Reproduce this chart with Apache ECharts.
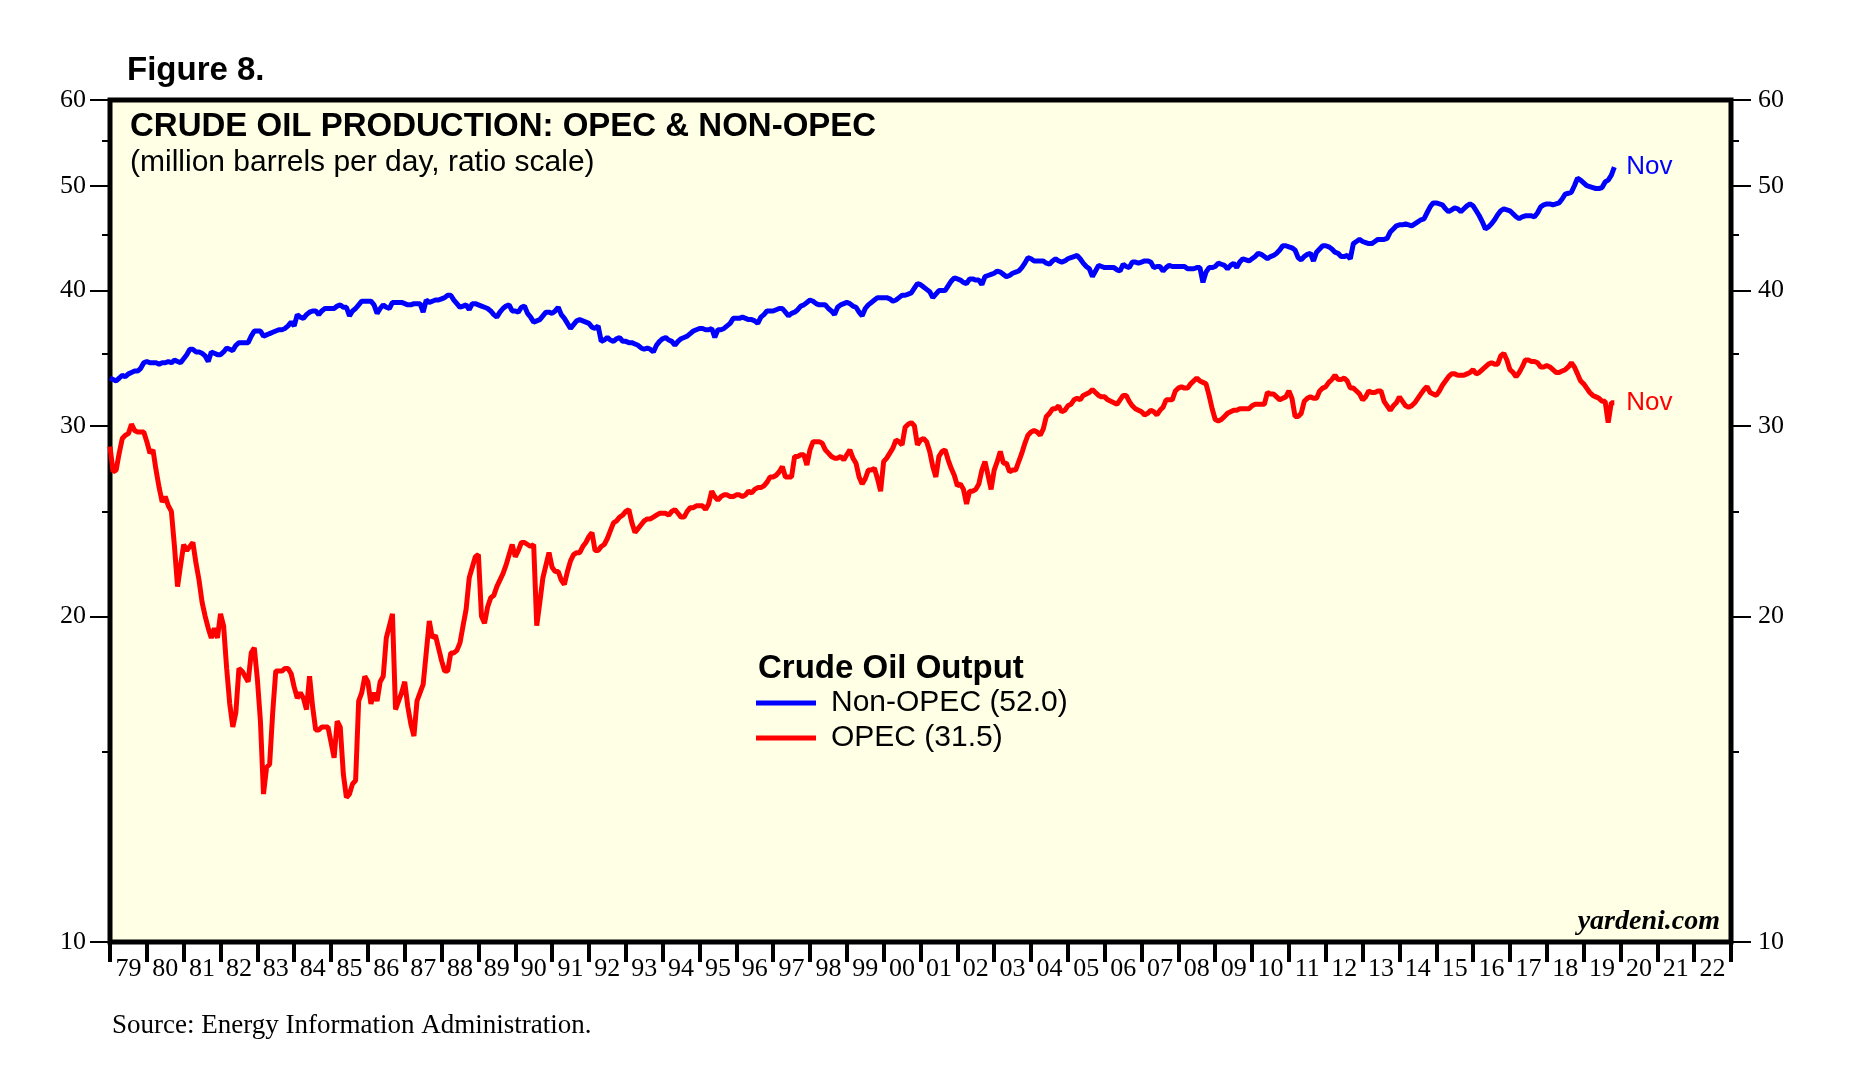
<!DOCTYPE html>
<html><head><meta charset="utf-8">
<script src="https://cdn.jsdelivr.net/npm/echarts@6/dist/echarts.min.js"></script>
<style>html,body{margin:0;padding:0;background:#fff}#c{width:1856px;height:1066px}</style>
</head><body><div id="c"></div>
<script>
// x-axis tick labels (one per year, 1979 .. 2022)
const yearLabels = ['79','80','81','82','83','84','85','86','87','88','89','90','91','92','93','94','95','96','97','98','99','00','01','02','03','04','05','06','07','08','09','10','11','12','13','14','15','16','17','18','19','20','21','22'];
const startYear = 1979;      // first monthly observation: Jan 1979
const axisMinYear = 1979;
const axisMaxYear = 2023;
const yMajorTicks = [10, 20, 30, 40, 50, 60];
const yMinorTicks = [15, 25, 35, 45, 55];
const lastMonthLabel = 'Nov';

// Monthly crude oil production, million barrels per day (Jan 1979 - Nov 2019)
const nonOpec = [
 33.2,33.1,33.0,33.2,33.4,33.3,33.5,33.6,33.7,33.7,33.9,34.3,
 34.4,34.3,34.3,34.3,34.2,34.3,34.3,34.4,34.3,34.5,34.4,34.3,
 34.6,34.9,35.3,35.3,35.1,35.1,35.0,34.8,34.4,35.1,35.0,34.9,
 34.9,35.1,35.4,35.3,35.2,35.6,35.8,35.8,35.8,35.8,36.3,36.7,
 36.7,36.7,36.3,36.4,36.5,36.6,36.7,36.8,36.8,36.9,37.1,37.4,
 37.1,38.0,37.8,37.7,38.0,38.2,38.3,38.3,38.0,38.3,38.5,38.5,
 38.5,38.5,38.7,38.8,38.6,38.6,37.9,38.3,38.5,38.8,39.1,39.1,
 39.1,39.1,38.8,38.1,38.5,38.8,38.6,38.5,39.0,39.0,39.0,39.0,
 38.9,38.8,38.8,38.9,38.9,38.9,38.2,39.2,39.0,39.1,39.2,39.2,
 39.3,39.4,39.6,39.6,39.2,38.9,38.6,38.7,38.8,38.4,38.9,38.9,
 38.8,38.7,38.6,38.5,38.3,38.0,37.8,38.2,38.5,38.7,38.8,38.3,
 38.3,38.2,38.6,38.7,38.1,37.8,37.4,37.5,37.6,37.9,38.2,38.2,
 38.1,38.3,38.6,38.0,37.7,37.3,36.9,37.2,37.5,37.6,37.5,37.4,
 37.3,37.0,36.9,37.1,35.9,36.0,36.2,36.0,35.9,36.1,36.2,35.9,
 35.9,35.8,35.8,35.7,35.6,35.4,35.3,35.4,35.3,35.1,35.6,35.9,
 36.1,36.2,36.0,35.9,35.6,35.9,36.1,36.2,36.3,36.5,36.7,36.8,
 36.9,36.9,36.8,36.8,36.9,36.2,36.8,36.8,36.9,37.1,37.3,37.7,
 37.7,37.7,37.8,37.7,37.6,37.6,37.5,37.3,37.8,38.0,38.3,38.3,
 38.3,38.4,38.5,38.5,38.2,37.9,38.1,38.2,38.4,38.7,38.8,39.0,
 39.2,39.1,38.9,38.8,38.8,38.8,38.5,38.3,38.0,38.6,38.8,38.9,
 39.0,38.9,38.7,38.6,38.2,37.9,38.5,38.8,39.0,39.2,39.4,39.4,
 39.4,39.4,39.3,39.1,39.2,39.4,39.6,39.6,39.7,39.8,40.2,40.6,
 40.5,40.3,40.1,39.9,39.4,39.7,40.0,40.0,40.0,40.4,40.8,41.1,
 41.0,40.9,40.7,40.6,41.0,41.0,40.9,40.9,40.5,41.2,41.3,41.4,
 41.5,41.7,41.6,41.4,41.2,41.3,41.5,41.6,41.7,42.0,42.4,42.9,
 42.8,42.6,42.6,42.6,42.6,42.4,42.3,42.6,42.8,42.6,42.5,42.6,
 42.8,42.9,43.0,43.1,42.8,42.4,42.1,41.9,41.2,41.7,42.2,42.1,
 42.0,42.0,42.0,42.0,41.8,41.7,42.3,42.1,42.0,42.5,42.5,42.4,
 42.5,42.6,42.6,42.5,42.0,42.1,42.1,41.7,42.0,42.2,42.1,42.1,
 42.1,42.1,42.1,41.9,41.9,41.9,42.0,42.0,40.7,41.6,42.0,42.0,
 42.1,42.4,42.3,42.2,41.9,42.2,42.4,42.0,42.5,42.8,42.7,42.6,
 42.8,43.0,43.3,43.2,43.0,42.8,43.0,43.1,43.3,43.6,44.0,44.0,
 43.9,43.8,43.6,42.9,42.7,43.0,43.2,43.3,42.6,43.4,43.7,44.0,
 44.0,43.9,43.7,43.4,43.3,43.0,43.0,43.1,42.8,44.2,44.4,44.6,
 44.4,44.3,44.2,44.2,44.4,44.6,44.6,44.6,44.7,45.3,45.6,45.9,
 46.0,46.0,46.1,46.0,45.9,46.1,46.3,46.5,46.6,47.2,47.8,48.2,
 48.2,48.1,48.0,47.6,47.3,47.5,47.7,47.6,47.3,47.6,47.9,48.1,
 47.9,47.4,46.9,46.3,45.6,45.8,46.1,46.5,47.0,47.4,47.6,47.5,
 47.4,47.1,46.8,46.6,46.8,46.9,46.9,46.9,46.8,47.2,47.8,48.0,
 48.1,48.1,48.0,48.1,48.2,48.6,49.1,49.2,49.3,50.0,50.8,50.6,
 50.3,50.0,49.9,49.8,49.7,49.7,49.8,50.4,50.6,51.1,52.0
];
const opec = [
 28.7,27.2,27.3,28.3,29.2,29.4,29.5,30.1,29.7,29.6,29.6,29.6,
 29.0,28.3,28.5,27.3,26.3,25.5,25.8,25.3,25.0,23.2,21.3,22.3,
 23.3,23.0,23.2,23.4,22.4,21.6,20.6,20.0,19.5,19.1,19.5,19.1,
 20.1,19.6,17.9,16.6,15.8,16.3,17.9,17.8,17.6,17.4,18.5,18.7,
 17.5,16.0,13.7,14.5,14.6,16.3,17.8,17.8,17.8,17.9,17.9,17.7,
 17.2,16.8,17.0,16.8,16.4,17.6,16.5,15.7,15.7,15.8,15.8,15.8,
 15.3,14.8,16.0,15.8,14.3,13.6,13.7,14.0,14.1,16.7,17.0,17.6,
 17.4,16.6,17.0,16.7,17.4,17.6,19.1,19.6,20.1,16.4,16.7,17.0,
 17.4,16.5,15.9,15.5,16.7,17.0,17.3,18.5,19.8,19.1,19.2,18.7,
 18.2,17.8,17.8,18.5,18.5,18.6,18.9,19.6,20.3,21.7,22.2,22.7,
 22.8,20.0,19.7,20.4,20.8,20.9,21.3,21.6,21.9,22.3,22.8,23.3,
 22.7,23.0,23.4,23.4,23.3,23.2,23.3,19.6,20.6,21.7,22.3,22.9,
 22.2,22.0,22.0,21.6,21.4,22.0,22.5,22.8,22.9,22.9,23.2,23.4,
 23.7,23.9,23.0,23.0,23.2,23.3,23.6,24.0,24.4,24.5,24.7,24.8,
 25.0,25.1,24.4,23.9,24.1,24.3,24.5,24.6,24.6,24.7,24.8,24.9,
 24.9,24.9,24.8,25.0,25.1,24.9,24.7,24.7,25.0,25.2,25.2,25.3,
 25.3,25.3,25.1,25.4,26.1,25.8,25.6,25.8,25.9,25.9,25.8,25.8,
 25.9,25.9,25.8,25.9,26.1,26.0,26.2,26.3,26.3,26.4,26.6,26.9,
 26.9,27.0,27.2,27.5,26.9,26.9,26.9,28.1,28.1,28.2,28.2,27.6,
 28.5,29.0,29.0,29.0,28.9,28.5,28.3,28.1,28.0,28.0,28.1,27.9,
 28.2,28.5,28.0,27.7,26.9,26.5,26.8,27.3,27.3,27.4,26.8,26.1,
 27.8,28.0,28.3,28.6,29.1,29.0,28.8,29.9,30.1,30.2,30.0,28.8,
 29.1,29.2,29.0,28.4,27.5,26.9,28.1,28.4,28.5,27.9,27.4,27.0,
 26.4,26.5,26.2,25.4,26.1,26.1,26.2,26.5,27.3,27.8,27.0,26.2,
 27.3,27.8,28.4,27.7,27.7,27.2,27.3,27.3,27.8,28.3,28.9,29.4,
 29.6,29.7,29.6,29.4,29.8,30.6,30.8,31.1,31.1,31.3,30.9,31.0,
 31.3,31.4,31.7,31.8,31.7,32.0,32.1,32.2,32.4,32.2,32.0,31.9,
 31.9,31.7,31.6,31.5,31.4,31.7,32.0,32.0,31.6,31.3,31.1,31.0,
 30.9,30.7,30.8,31.0,30.9,30.7,31.0,31.2,31.7,31.7,31.7,32.3,
 32.5,32.6,32.5,32.5,32.8,33.0,33.2,33.0,32.9,32.8,32.0,31.1,
 30.4,30.3,30.4,30.6,30.8,30.9,31.0,31.0,31.1,31.1,31.1,31.1,
 31.3,31.4,31.4,31.4,31.4,32.2,32.1,32.1,31.9,31.7,31.8,31.9,
 32.3,31.8,30.6,30.6,30.8,31.6,31.8,31.9,31.8,31.8,32.3,32.5,
 32.6,32.9,33.1,33.4,33.1,33.1,33.2,33.0,32.5,32.5,32.3,32.1,
 31.7,31.9,32.3,32.2,32.2,32.3,32.3,31.6,31.3,31.0,31.3,31.5,
 31.9,31.6,31.3,31.2,31.3,31.5,31.8,32.1,32.4,32.6,32.2,32.1,
 32.0,32.3,32.7,33.0,33.3,33.5,33.5,33.4,33.4,33.4,33.5,33.6,
 33.8,33.5,33.6,33.8,34.0,34.2,34.3,34.2,34.2,34.8,35.0,34.5,
 33.8,33.6,33.3,33.6,34.0,34.5,34.5,34.4,34.4,34.3,34.0,34.0,
 34.1,34.0,33.8,33.6,33.6,33.7,33.8,34.0,34.3,34.0,33.5,33.0,
 32.8,32.5,32.2,32.0,31.9,31.8,31.6,31.6,30.2,31.5,31.5
];

function toPairs(vals) { return vals.map((v, i) => [startYear + i / 12, v]); }
const last = { 'Non-OPEC': nonOpec[nonOpec.length - 1], 'OPEC': opec[opec.length - 1] };

const SANS = 'Liberation Sans, Arial, sans-serif';
const SERIF = 'Liberation Serif, Times New Roman, serif';

function yAxisDef(pos, ticks, len, labels, margin) {
  return {
    type: 'log', logBase: 10, min: 10, max: 60, position: pos,
    axisLine: { show: false },
    splitLine: { show: false },
    axisTick: { show: true, customValues: ticks, length: len, lineStyle: { color: '#000', width: 2 } },
    axisLabel: labels ? { show: true, customValues: ticks, margin: margin, fontSize: 26, fontFamily: SERIF, color: '#000' } : { show: false }
  };
}

const chart = echarts.init(document.getElementById('c'), null, { renderer: 'canvas' });
chart.setOption({
  animation: false,
  backgroundColor: '#ffffff',
  grid: { left: 110, right: 125, top: 100, bottom: 124, show: true, backgroundColor: '#FFFFE6', borderColor: '#000', borderWidth: 5, z: 0 },
  xAxis: [
    { type: 'value', min: axisMinYear, max: axisMaxYear, show: false },
    { type: 'category', data: yearLabels, boundaryGap: true, position: 'bottom',
      axisLine: { show: false },
      axisTick: { show: true, interval: 0, length: 20, lineStyle: { color: '#000', width: 4 } },
      axisLabel: { interval: 0, margin: 14, fontSize: 26, fontFamily: SERIF, color: '#000' },
      splitLine: { show: false } }
  ],
  yAxis: [
    yAxisDef('left', yMajorTicks, 20, true, 24),
    yAxisDef('left', yMinorTicks, 8, false),
    yAxisDef('right', yMajorTicks, 20, true, 27),
    yAxisDef('right', yMinorTicks, 8, false)
  ],
  legend: {
    left: 751, top: 683, orient: 'vertical', icon: 'rect', itemWidth: 60, itemHeight: 5, itemGap: 5,
    selectedMode: false,
    data: ['Non-OPEC', 'OPEC'],
    formatter: name => name + ' (' + last[name].toFixed(1) + ')',
    textStyle: { fontSize: 30, fontFamily: SANS, color: '#000', padding: [0, 0, 0, 10] }
  },
  series: [
    { name: 'Non-OPEC', type: 'line', xAxisIndex: 0, yAxisIndex: 0, data: toPairs(nonOpec), showSymbol: false, symbol: 'none',
      color: '#0000FF', lineStyle: { color: '#0000FF', width: 5 }, z: 5,
      endLabel: { show: true, formatter: lastMonthLabel, color: '#0000FF', fontSize: 26, fontFamily: SANS, distance: 12 } },
    { name: 'OPEC', type: 'line', xAxisIndex: 0, yAxisIndex: 0, data: toPairs(opec), showSymbol: false, symbol: 'none',
      color: '#FF0000', lineStyle: { color: '#FF0000', width: 5 }, z: 5,
      endLabel: { show: true, formatter: lastMonthLabel, color: '#FF0000', fontSize: 26, fontFamily: SANS, distance: 12 } }
  ],
  graphic: [
    { type: 'text', x: 127, y: 71, z: 100, style: { text: 'Figure 8.', fontSize: 33, fontWeight: 'bold', fontFamily: SANS, fill: '#000', align: 'left', verticalAlign: 'middle' } },
    { type: 'text', x: 130, y: 127, z: 100, style: { text: 'CRUDE OIL PRODUCTION: OPEC & NON-OPEC', fontSize: 33, fontWeight: 'bold', fontFamily: SANS, fill: '#000', align: 'left', verticalAlign: 'middle' } },
    { type: 'text', x: 130, y: 163, z: 100, style: { text: '(million barrels per day, ratio scale)', fontSize: 30, fontFamily: SANS, fill: '#000', align: 'left', verticalAlign: 'middle' } },
    { type: 'text', x: 758, y: 669, z: 100, style: { text: 'Crude Oil Output', fontSize: 33, fontWeight: 'bold', fontFamily: SANS, fill: '#000', align: 'left', verticalAlign: 'middle' } },
    { type: 'text', x: 1720, y: 922, z: 100, style: { text: 'yardeni.com', fontSize: 28, fontWeight: 'bold', fontStyle: 'italic', fontFamily: SERIF, fill: '#000', align: 'right', verticalAlign: 'middle' } },
    { type: 'text', x: 112, y: 1026, z: 100, style: { text: 'Source: Energy Information Administration.', fontSize: 27, fontFamily: SERIF, fill: '#000', align: 'left', verticalAlign: 'middle' } }
  ]
});
</script>
</body></html>
